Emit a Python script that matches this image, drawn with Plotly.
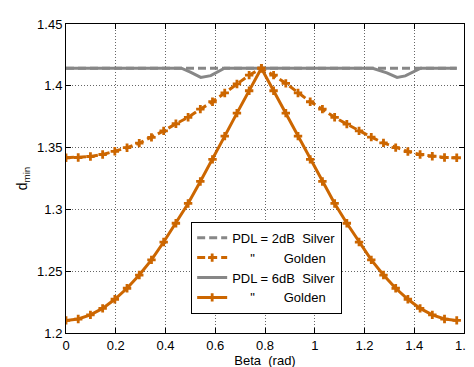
import plotly.graph_objects as go

beta = [0, 0.0491, 0.0982, 0.1473, 0.1963, 0.2454, 0.2945, 0.3436, 0.3927, 0.4418,
        0.4909, 0.5400, 0.5890, 0.6381, 0.6872, 0.7363, 0.7854, 0.8345, 0.8836, 0.9327,
        0.9817, 1.0308, 1.0799, 1.1290, 1.1781, 1.2272, 1.2763, 1.3254, 1.3744, 1.4235,
        1.4726, 1.5217, 1.5708]

golden_2db = [1.3418, 1.3420, 1.3428, 1.3444, 1.3470, 1.3499, 1.3536, 1.3583, 1.3635,
              1.3693, 1.3745, 1.3811, 1.3871, 1.3942, 1.4015, 1.4086, 1.4142, 1.4086,
              1.4020, 1.3942, 1.3871, 1.3811, 1.3745, 1.3690, 1.3635, 1.3585, 1.3538,
              1.3500, 1.3468, 1.3444, 1.3430, 1.3420, 1.3418]

golden_6db = [1.2102, 1.2113, 1.2147, 1.2199, 1.2273, 1.2362, 1.2469, 1.2592, 1.2736,
              1.2888, 1.3048, 1.3226, 1.3405, 1.3593, 1.3779, 1.3960, 1.4142, 1.3960,
              1.3779, 1.3593, 1.3405, 1.3226, 1.3048, 1.2888, 1.2736, 1.2592, 1.2469,
              1.2362, 1.2273, 1.2199, 1.2147, 1.2113, 1.2102]

silver_2db_x = [0, 1.5708]
silver_2db = [1.4142, 1.4142]

silver_6db_x = [0, 0.464, 0.500, 0.542, 0.582, 0.637, 1.233, 1.290, 1.331, 1.364, 1.426, 1.5708]
silver_6db = [1.4142, 1.4142, 1.4110, 1.4068, 1.4082, 1.4142, 1.4142, 1.4105, 1.4068, 1.4080, 1.4142, 1.4142]

sp = "\u00a0"
names = ["PDL = 2dB" + sp * 2 + "Silver",
         sp * 5 + "\"" + sp * 8 + "Golden",
         "PDL = 6dB" + sp * 2 + "Silver",
         sp * 5 + "\"" + sp * 8 + "Golden"]

gray = "#878787"
orange = "#CC6600"

fig = go.Figure()
fig.add_trace(go.Scatter(x=silver_2db_x, y=silver_2db, mode="lines", name=names[0],
                         line=dict(color=gray, width=3, dash="8px,4px")))
fig.add_trace(go.Scatter(x=beta, y=golden_2db, mode="lines+markers", name=names[1],
                         line=dict(color=orange, width=3, dash="8px,4px"),
                         marker=dict(symbol="cross", size=7, color=orange)))
fig.add_trace(go.Scatter(x=silver_6db_x, y=silver_6db, mode="lines", name=names[2],
                         line=dict(color=gray, width=3)))
fig.add_trace(go.Scatter(x=beta, y=golden_6db, mode="lines+markers", name=names[3],
                         line=dict(color=orange, width=3),
                         marker=dict(symbol="cross", size=7, color=orange)))

axis_common = dict(showline=True, linecolor="black", linewidth=1, mirror="ticks",
                   ticks="inside", ticklen=5, tickcolor="black",
                   showgrid=True, gridcolor="#666666", griddash="1px,2px", gridwidth=1,
                   zeroline=False, tickfont=dict(size=13, color="black"))

fig.update_layout(
    width=474, height=367,
    margin=dict(l=58, r=9, t=14, b=35),
    paper_bgcolor="white", plot_bgcolor="white",
    font=dict(family="Liberation Sans, Arial, sans-serif", size=13, color="black"),
    xaxis=dict(range=[0, 1.6], dtick=0.2, tick0=0,
               title=dict(text="Beta" + sp * 2 + "(rad)", standoff=4, font=dict(size=13)),
               **axis_common),
    yaxis=dict(range=[1.2, 1.45], dtick=0.05, tick0=1.2,
               title=dict(text="d<sub>min</sub>", standoff=6, font=dict(size=14)),
               **axis_common),
    legend=dict(x=0.3145, y=0.36, xanchor="left", yanchor="top",
                bgcolor="white", bordercolor="black", borderwidth=1,
                font=dict(size=13), itemwidth=30, tracegroupgap=0),
    showlegend=True,
)

fig.write_html("out.html")
